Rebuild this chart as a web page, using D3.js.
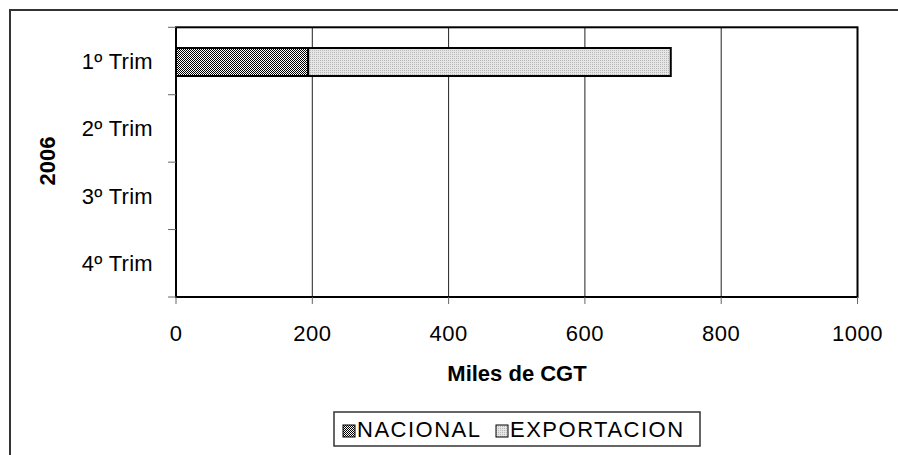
<!DOCTYPE html>
<html><head><meta charset="utf-8">
<script src="https://cdn.jsdelivr.net/npm/d3@7"></script>
<style>body{margin:0;background:#fff}svg{display:block}text{font-family:"Liberation Sans",Arial,sans-serif}</style>
</head><body>
<script>
const categories = ["1º Trim","2º Trim","3º Trim","4º Trim"];
const nacional = [194, null, null, null];
const exportacion = [532, null, null, null];
const seriesNames = ["NACIONAL","EXPORTACION"];
const xTicks = [0,200,400,600,800,1000];
const groupLabel = "2006";
const xTitle = "Miles de CGT";

const W = 898, H = 455;
const svg = d3.select("body").append("svg").attr("width", W).attr("height", H);
const defs = svg.append("defs");
const p1 = defs.append("pattern").attr("id","pNac").attr("patternUnits","userSpaceOnUse").attr("width",2).attr("height",2);
p1.append("rect").attr("width",2).attr("height",2).attr("fill","#ffffff");
p1.append("rect").attr("width",1).attr("height",1).attr("fill","#000");
p1.append("rect").attr("x",1).attr("y",1).attr("width",1).attr("height",1).attr("fill","#000");
const p2 = defs.append("pattern").attr("id","pExp").attr("patternUnits","userSpaceOnUse").attr("width",2).attr("height",2);
p2.append("rect").attr("width",2).attr("height",2).attr("fill","#e6e6e6");
p2.append("rect").attr("width",1).attr("height",1).attr("fill","#b8b8b8");
const fills = ["url(#pNac)","url(#pExp)"];

svg.append("path").attr("d","M10,455 L10,10 L898,10").attr("fill","none").attr("stroke","#333").attr("stroke-width",2);

const L = 176, R = 857.5, T = 27.3, B = 297;
const x = d3.scaleLinear().domain([0,1000]).range([L,R]);
const y = d3.scaleBand().domain(categories).range([T,B]);

svg.append("g").selectAll("line").data(xTicks.slice(1,-1)).join("line")
  .attr("x1",d=>x(d)).attr("x2",d=>x(d)).attr("y1",T).attr("y2",B)
  .attr("stroke","#222").attr("stroke-width",1);

const stackData = categories.map((c,i)=>({cat:c, NACIONAL:nacional[i]||0, EXPORTACION:exportacion[i]||0}));
const stack = d3.stack().keys(seriesNames)(stackData);
const barH = 28;
stack.forEach((s,si)=>{
  svg.append("g").selectAll("rect").data(s.filter(d=>d[1]-d[0]>0)).join("rect")
    .attr("x",d=>x(d[0])).attr("width",d=>x(d[1])-x(d[0]))
    .attr("y",d=>y(d.data.cat)+y.bandwidth()/2-barH/2+1).attr("height",barH)
    .attr("fill",fills[si]).attr("stroke","#000").attr("stroke-width",2);
});

svg.append("rect").attr("x",L).attr("y",T).attr("width",R-L).attr("height",B-T)
  .attr("fill","none").attr("stroke","#000").attr("stroke-width",2);

const yTickPos = categories.map(c=>y(c)).concat([B]);
svg.append("g").selectAll("line").data(yTickPos).join("line")
  .attr("x1",168).attr("x2",L).attr("y1",d=>d).attr("y2",d=>d).attr("stroke","#666").attr("stroke-width",1);
svg.append("g").selectAll("line").data(xTicks).join("line")
  .attr("x1",d=>x(d)).attr("x2",d=>x(d)).attr("y1",B).attr("y2",304).attr("stroke","#666").attr("stroke-width",1);

svg.append("g").selectAll("text").data(categories).join("text")
  .attr("x",153).attr("y",d=>y(d)+y.bandwidth()/2+8)
  .attr("text-anchor","end").attr("font-size",22).attr("letter-spacing",0.3).attr("fill","#000").text(d=>d);
svg.append("g").selectAll("text").data(xTicks).join("text")
  .attr("x",d=>x(d)).attr("y",341).attr("text-anchor","middle").attr("font-size",22).attr("letter-spacing",0.5).attr("fill","#000").text(d=>d);

svg.append("text").attr("x",517).attr("y",381).attr("text-anchor","middle").attr("font-size",22).attr("font-weight","bold").text(xTitle);
svg.append("text").attr("transform","translate(55,161) rotate(-90)").attr("text-anchor","middle").attr("font-size",22).attr("font-weight","bold").text(groupLabel);

const lg = svg.append("g");
lg.append("rect").attr("x",334).attr("y",412).attr("width",366).attr("height",34).attr("fill","#fff").attr("stroke","#333").attr("stroke-width",1.5);
const lx = [343, 496];
seriesNames.forEach((n,i)=>{
  lg.append("rect").attr("x",lx[i]).attr("y",425).attr("width",12).attr("height",12).attr("fill",fills[i]).attr("stroke","#000").attr("stroke-width",1);
  lg.append("text").attr("x",lx[i]+14).attr("y",437).attr("font-size",22).attr("letter-spacing",1.5).text(n);
});
</script>
</body></html>
